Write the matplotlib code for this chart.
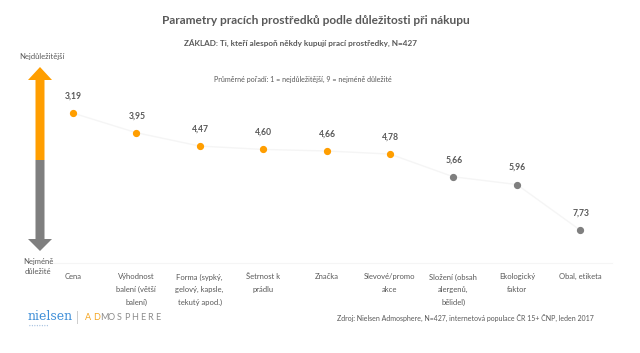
import matplotlib
matplotlib.use("Agg")
import matplotlib.pyplot as plt
from matplotlib.patches import Polygon

categories = ["Cena", "Výhodnost\nbalení (větší\nbalení)", "Forma (sypký,\ngelový, kapsle,\ntekutý apod.)",
              "Šetrnost k\nprádlu", "Značka", "Slevové/promo\nakce", "Složení (obsah\nalergenů,\nbělidel)",
              "Ekologický\nfaktor", "Obal, etiketa"]
values = [3.19, 3.95, 4.47, 4.60, 4.66, 4.78, 5.66, 5.96, 7.73]
highlight = [True, True, True, True, True, True, False, False, False]

ORANGE = "#FF9E00"
GREY = "#7F7F7F"
TXT = "#595959"
FONT = "Lato"

plt.rcParams['font.family'] = [FONT, 'DejaVu Sans']

fig = plt.figure(figsize=(6.4, 3.53), dpi=100)
W, H = 640, 353

ax = fig.add_axes([41 / W, 1 - 263 / H, (612 - 41) / W, (263 - 56.5) / H])
ax.set_facecolor("none")
x = list(range(len(values)))
ax.plot(x, values, color="#f5f5f5", lw=1, zorder=1)
for xi, v, h in zip(x, values, highlight):
    ax.plot(xi, v, 'o', color=ORANGE if h else GREY, ms=4.2, zorder=3)
    ax.annotate(f"{v:.2f}".replace(".", ","), (xi, v), xytext=(0.5, 9), textcoords="offset points",
                ha="center", va="bottom", fontsize=6.2, fontweight="bold", color=TXT)
ax.set_xlim(-0.5, len(values) - 0.5)
ax.set_ylim(9, 1)
ax.set_yticks([])
ax.set_xticks(x)
ax.set_xticklabels(categories, fontsize=5.5, color=TXT, linespacing=1.9, va="top")
ax.tick_params(axis="x", length=0, pad=7.5)
for s in ["top", "left", "right"]:
    ax.spines[s].set_visible(False)
ax.spines["bottom"].set_color("#f5f5f5")
ax.spines["bottom"].set_linewidth(0.8)

# overlay for decorations in pixel coordinates
ov = fig.add_axes([0, 0, 1, 1], zorder=5)
ov.set_xlim(0, W)
ov.set_ylim(H, 0)
ov.axis("off")

cx = 40
sw = 4.5
hw = 12
ov.add_patch(Polygon([(cx - sw, 160), (cx - sw, 80), (cx - hw, 80), (cx, 67), (cx + hw, 80),
                      (cx + sw, 80), (cx + sw, 160)], closed=True, color=ORANGE, lw=0))
ov.add_patch(Polygon([(cx - sw, 160), (cx - sw, 239), (cx - hw, 239), (cx, 251), (cx + hw, 239),
                      (cx + sw, 239), (cx + sw, 160)], closed=True, color=GREY, lw=0))

fig.text(42 / W, 1 - 56 / H, "Nejdůležitější", fontsize=5.5, color=TXT, ha="center", va="center")
fig.text(38 / W, 1 - 266.5 / H, "Nejméně\ndůležité", fontsize=5.5, color=TXT, ha="center", va="center",
         linespacing=1.4)

fig.text(316 / W, 1 - 20 / H, "Parametry pracích prostředků podle důležitosti při nákupu",
         fontsize=8.6, fontweight="bold", color=TXT, ha="center", va="center")
fig.text(300 / W, 1 - 43 / H, "ZÁKLAD: Ti, kteří alespoň někdy kupují prací prostředky, N=427",
         fontsize=5.9, fontweight="bold", color=TXT, ha="center", va="center")
fig.text(303 / W, 1 - 79 / H, "Průměrné pořadí: 1 = nejdůležitější, 9 = nejméně důležité",
         fontsize=5.1, color=TXT, ha="center", va="center")

fig.text(28 / W, 1 - 317 / H, "nielsen", fontsize=9, color="#3F8FD8", family="DejaVu Serif",
         ha="left", va="center")
fig.text(29 / W, 1 - 326 / H, "• • • • • • • •", fontsize=2.2, color="#9DBBDD", ha="left", va="center")
fig.text(77 / W, 1 - 317 / H, "|", fontsize=9, color="#C8C8C8", ha="center", va="center")
for i, ch in enumerate("ADMOSPHERE"):
    fig.text((85 + i * 7.7 + 3.5) / W, 1 - 317 / H, ch, fontsize=6.5,
             color="#F5A623" if i < 2 else "#8C8C8C", ha="center", va="center")

fig.text(594 / W, 1 - 318 / H, "Zdroj: Nielsen Admosphere, N=427, internetová populace ČR 15+ ČNP, leden 2017",
         fontsize=5, color=TXT, ha="right", va="center")

fig.savefig("out.png", dpi=100)
